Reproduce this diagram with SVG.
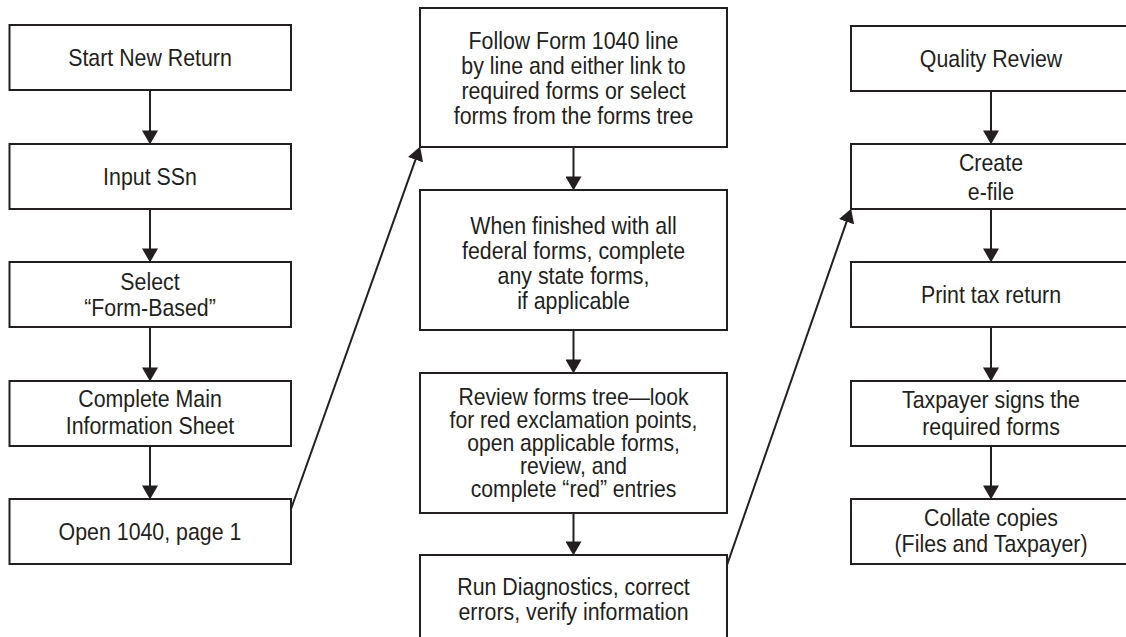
<svg xmlns="http://www.w3.org/2000/svg" width="1126" height="637" viewBox="0 0 1126 637">
<defs>
<style>
.box{fill:#fff;stroke:#231f20;stroke-width:2}
.t{font-family:"Liberation Sans",Arial,sans-serif;font-size:24px;fill:#231f20;text-anchor:middle}
.s{font-size:23px}
.c{stroke:#231f20;stroke-width:2;fill:none;marker-end:url(#ah)}
</style>
<marker id="ah" markerUnits="userSpaceOnUse" markerWidth="14" markerHeight="16" viewBox="0 0 13 15" refX="7" refY="7.5" orient="auto">
<path d="M0,0 L13,7.5 L0,15 z" fill="#231f20"/>
</marker>
</defs>
<rect width="1126" height="637" fill="#fff"/>
<g id="connectors">
<line class="c" x1="150" y1="90" x2="150" y2="138"/>
<line class="c" x1="150" y1="209" x2="150" y2="256"/>
<line class="c" x1="150" y1="327" x2="150" y2="375"/>
<line class="c" x1="150" y1="446" x2="150" y2="493"/>
<line class="c" x1="291" y1="509" x2="417.99" y2="152.65"/>
<line class="c" x1="573.5" y1="147" x2="573.5" y2="184"/>
<line class="c" x1="573.5" y1="330" x2="573.5" y2="367"/>
<line class="c" x1="573.5" y1="513" x2="573.5" y2="549"/>
<line class="c" x1="727" y1="565" x2="849.03" y2="214.67"/>
<line class="c" x1="991" y1="91" x2="991" y2="138"/>
<line class="c" x1="991" y1="209" x2="991" y2="256"/>
<line class="c" x1="991" y1="327" x2="991" y2="375"/>
<line class="c" x1="991" y1="446" x2="991" y2="493"/>
</g>
<g id="n1"><rect class="box" x="9.5" y="25" width="281.5" height="65"/><text class="t" transform="translate(150 65.5) scale(0.89 1)">Start New Return</text></g>
<g id="n2"><rect class="box" x="9.5" y="144" width="281.5" height="65"/><text class="t" transform="translate(150 185) scale(0.89 1)">Input SSn</text></g>
<g id="n3"><rect class="box" x="9.5" y="262" width="281.5" height="65"/><text class="t" transform="translate(150 290) scale(0.89 1)">Select</text><text class="t" transform="translate(150 316) scale(0.89 1)">“Form-Based”</text></g>
<g id="n4"><rect class="box" x="9.5" y="381" width="281.5" height="65"/><text class="t" transform="translate(150 407) scale(0.89 1)">Complete Main</text><text class="t" transform="translate(150 434) scale(0.89 1)">Information Sheet</text></g>
<g id="n5"><rect class="box" x="9.5" y="499" width="281.5" height="65"/><text class="t" transform="translate(150 540) scale(0.89 1)">Open 1040, page 1</text></g>
<g id="n6"><rect class="box" x="420" y="8" width="307" height="139"/><text class="t" transform="translate(573.5 48.5) scale(0.89 1)">Follow Form 1040 line</text><text class="t" transform="translate(573.5 73.5) scale(0.89 1)">by line and either link to</text><text class="t" transform="translate(573.5 98.5) scale(0.89 1)">required forms or select</text><text class="t" transform="translate(573.5 123.5) scale(0.89 1)">forms from the forms tree</text></g>
<g id="n7"><rect class="box" x="420" y="190" width="307" height="140"/><text class="t" transform="translate(573.5 233.5) scale(0.89 1)">When finished with all</text><text class="t" transform="translate(573.5 258.5) scale(0.89 1)">federal forms, complete</text><text class="t" transform="translate(573.5 283.5) scale(0.89 1)">any state forms,</text><text class="t" transform="translate(573.5 308.5) scale(0.89 1)">if applicable</text></g>
<g id="n8"><rect class="box" x="420" y="373" width="307" height="140"/><text class="t s" transform="translate(573.5 405) scale(0.92 1)">Review forms tree—look</text><text class="t s" transform="translate(573.5 428) scale(0.92 1)">for red exclamation points,</text><text class="t s" transform="translate(573.5 451) scale(0.92 1)">open applicable forms,</text><text class="t s" transform="translate(573.5 474) scale(0.92 1)">review, and</text><text class="t s" transform="translate(573.5 497) scale(0.92 1)">complete “red” entries</text></g>
<g id="n9"><rect class="box" x="420" y="555" width="307" height="95"/><text class="t" transform="translate(573.5 595) scale(0.89 1)">Run Diagnostics, correct</text><text class="t" transform="translate(573.5 620) scale(0.89 1)">errors, verify information</text></g>
<g id="n10"><rect class="box" x="851" y="26" width="282" height="65"/><text class="t" transform="translate(991 66.5) scale(0.89 1)">Quality Review</text></g>
<g id="n11"><rect class="box" x="851" y="144" width="282" height="65"/><text class="t" transform="translate(991 170.5) scale(0.89 1)">Create</text><text class="t" transform="translate(991 199.5) scale(0.89 1)">e-file</text></g>
<g id="n12"><rect class="box" x="851" y="262" width="282" height="65"/><text class="t" transform="translate(991 303) scale(0.89 1)">Print tax return</text></g>
<g id="n13"><rect class="box" x="851" y="381" width="282" height="65"/><text class="t" transform="translate(991 408) scale(0.89 1)">Taxpayer signs the</text><text class="t" transform="translate(991 435) scale(0.89 1)">required forms</text></g>
<g id="n14"><rect class="box" x="851" y="499" width="282" height="65"/><text class="t" transform="translate(991 526) scale(0.89 1)">Collate copies</text><text class="t" transform="translate(991 552) scale(0.89 1)">(Files and Taxpayer)</text></g>
</svg>
